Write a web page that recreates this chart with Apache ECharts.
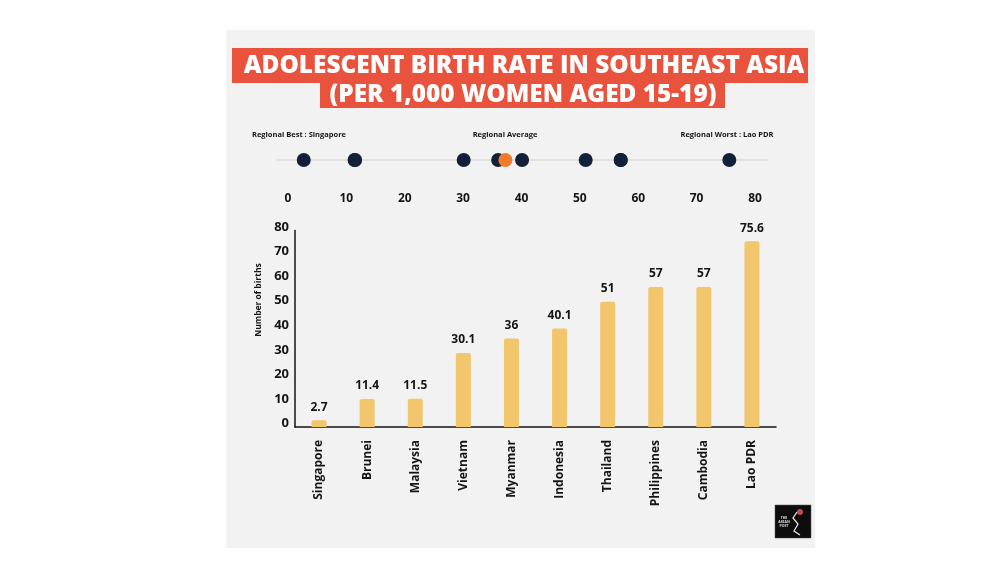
<!DOCTYPE html>
<html>
<head>
<meta charset="utf-8">
<script src="https://cdn.jsdelivr.net/npm/echarts@6.0.0/dist/echarts.min.js"></script>
<style>
  html, body { margin: 0; padding: 0; background: #ffffff; }
  #chart { width: 999px; height: 562px; }
</style>
</head>
<body>
<div id="chart"></div>
<script>
// ---- Data ----
const countries = ['Singapore', 'Brunei', 'Malaysia', 'Vietnam', 'Myanmar', 'Indonesia', 'Thailand', 'Philippines', 'Cambodia', 'Lao PDR'];
const birthRates = [2.7, 11.4, 11.5, 30.1, 36, 40.1, 51, 57, 57, 75.6];
const stripTicks = [0, 10, 20, 30, 40, 50, 60, 70, 80];
const titleLine1 = 'ADOLESCENT BIRTH RATE IN SOUTHEAST ASIA';
const titleLine2 = '(PER 1,000 WOMEN AGED 15-19)';
const stripNotes = ['Regional Best : Singapore', 'Regional Average', 'Regional Worst : Lao PDR'];
const yAxisTitle = 'Number of births';

const regionalAverage = birthRates.reduce((a, b) => a + b, 0) / birthRates.length;

const FONT = '"Open Sans", "Noto Sans", sans-serif';
const DARK = '#141414';

const chart = echarts.init(document.getElementById('chart'), null, { renderer: 'canvas' });

chart.setOption({
  backgroundColor: '#ffffff',
  animation: false,
  textStyle: { fontFamily: FONT },
  graphic: [
    { type: 'rect', z: -10, shape: { x: 226, y: 30, width: 589, height: 518 }, style: { fill: '#f2f2f2' } },
    { type: 'rect', z: -5, shape: { x: 232, y: 48, width: 576, height: 35 }, style: { fill: '#e9533d' } },
    { type: 'rect', z: -5, shape: { x: 320, y: 82, width: 405, height: 26 }, style: { fill: '#e9533d' } },
    { type: 'text', x: 524, y: 66, style: { text: titleLine1, fill: '#ffffff', font: '800 24.4px ' + FONT, align: 'center', verticalAlign: 'middle' } },
    { type: 'text', x: 523, y: 95, style: { text: titleLine2, fill: '#ffffff', font: '800 24.4px ' + FONT, align: 'center', verticalAlign: 'middle' } },
    { type: 'text', x: 299, y: 135, style: { text: stripNotes[0], fill: DARK, font: '700 7.5px ' + FONT, align: 'center', verticalAlign: 'middle' } },
    { type: 'text', x: 505, y: 135, style: { text: stripNotes[1], fill: DARK, font: '700 7.5px ' + FONT, align: 'center', verticalAlign: 'middle' } },
    { type: 'text', x: 727, y: 135, style: { text: stripNotes[2], fill: DARK, font: '700 7.5px ' + FONT, align: 'center', verticalAlign: 'middle' } },
    { type: 'text', x: 259, y: 300, rotation: Math.PI / 2, style: { text: yAxisTitle, fill: DARK, font: '700 8.5px ' + FONT, align: 'center', verticalAlign: 'middle' } },
    { type: 'rect', shape: { x: 775, y: 505, width: 36, height: 33 }, style: { fill: '#0d0d0d', stroke: '#555', lineWidth: 0.5 } },
    { type: 'text', x: 784, y: 522, style: { text: 'THE\nASEAN\nPOST', fill: '#dddddd', font: '700 3.5px ' + FONT, align: 'center', verticalAlign: 'middle', lineHeight: 4 } },
    { type: 'polyline', shape: { points: [[797, 512], [793, 518], [798, 524], [794, 531], [800, 535]] }, style: { stroke: '#eeeeee', lineWidth: 1.2, fill: null } },
    { type: 'circle', shape: { cx: 800, cy: 512, r: 3 }, style: { fill: '#c0504d' } }
  ],
  grid: [
    { left: 295, right: 223, top: 230.5, bottom: 135 },
    { left: 277, right: 231, top: 146, height: 14 }
  ],
  xAxis: [
    {
      gridIndex: 0, type: 'category', data: countries,
      axisLine: { lineStyle: { color: DARK, width: 1.5 } },
      axisTick: { show: false },
      axisLabel: { rotate: 90, margin: 13, color: DARK, fontWeight: 700, fontSize: 12, fontFamily: FONT, interval: 0 }
    },
    {
      gridIndex: 1, type: 'value', min: -1.884, max: 82.227,
      axisLine: { onZero: false, lineStyle: { color: '#dcdcdc', width: 1.5 } },
      axisTick: { show: false },
      splitLine: { show: false },
      axisLabel: { customValues: stripTicks, margin: 33, color: DARK, fontWeight: 700, fontSize: 12, fontFamily: FONT }
    }
  ],
  yAxis: [
    {
      gridIndex: 0, type: 'value', min: 0, max: 80, interval: 10,
      axisLine: { show: true, lineStyle: { color: DARK, width: 1.5 } },
      axisTick: { show: false },
      splitLine: { show: false },
      axisLabel: { margin: 6, color: DARK, fontWeight: 700, fontSize: 13, fontFamily: FONT, verticalAlign: 'bottom', lineHeight: 7 }
    },
    { gridIndex: 1, type: 'value', min: 0, max: 1, show: false }
  ],
  series: [
    {
      type: 'bar', xAxisIndex: 0, yAxisIndex: 0, data: birthRates, barWidth: 15,
      itemStyle: { color: '#f2c66d', borderRadius: [2, 2, 0, 0] },
      label: { show: true, position: 'top', distance: 7, color: DARK, fontWeight: 700, fontSize: 12, fontFamily: FONT }
    },
    {
      type: 'scatter', xAxisIndex: 1, yAxisIndex: 1, symbolSize: 14, z: 3, clip: false,
      data: birthRates.map(v => [v, 0]),
      itemStyle: { color: '#13203a', opacity: 1 }
    },
    {
      type: 'scatter', xAxisIndex: 1, yAxisIndex: 1, symbolSize: 14, z: 4, clip: false,
      data: [[regionalAverage, 0]],
      itemStyle: { color: '#ef7c2c', opacity: 1 }
    }
  ]
});
</script>
</body>
</html>
